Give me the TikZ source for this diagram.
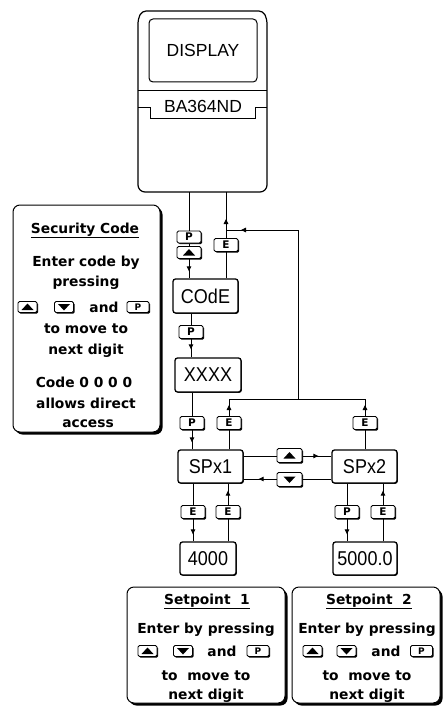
\documentclass[tikz,border=0pt]{standalone}
\usepackage{fontspec}
\setmainfont{DejaVu Sans}
\newfontfamily\dvb{DejaVu Sans}
\newfontfamily\lcd{Liberation Sans}
\newfontfamily\lcdn[FakeStretch=0.9]{Liberation Sans}
\usetikzlibrary{arrows.meta,decorations.markings,shadows}
\tikzset{
  conn/.style={line width=0.9pt},
  tipat/.style={postaction={decorate}, decoration={markings, mark=at position #1 with {\arrow{Triangle[length=5pt,width=4.5pt]}}}},
  keyb/.style={draw, fill=white, line width=0.8pt, rounded corners=1.5pt, minimum width=24pt, minimum height=13pt, inner sep=0pt,
    font=\dvb\bfseries\fontsize{10.5}{10.5}\selectfont,
    drop shadow={shadow xshift=1.2pt, shadow yshift=-1.2pt, fill=black, opacity=1}},
  skey/.style={keyb, minimum width=19pt, minimum height=11pt, font=\dvb\bfseries\fontsize{9}{9}\selectfont},
  pkey/.style={skey, minimum width=22pt},
  upk/.style={path picture={\fill[black, sharp corners] ([shift={(-6pt,-3pt)}]path picture bounding box.center) -- ([shift={(6pt,-3pt)}]path picture bounding box.center) -- ([shift={(0pt,3.5pt)}]path picture bounding box.center) -- cycle;}},
  dnk/.style={path picture={\fill[black, sharp corners] ([shift={(-6pt,3pt)}]path picture bounding box.center) -- ([shift={(6pt,3pt)}]path picture bounding box.center) -- ([shift={(0pt,-3.5pt)}]path picture bounding box.center) -- cycle;}},
  dbox/.style={draw, fill=white, line width=1.3pt, rounded corners=2.5pt, inner sep=0pt,
    font=\lcdn\fontsize{20}{20}\selectfont,
    drop shadow={shadow xshift=0.8pt, shadow yshift=-0.8pt, fill=black, opacity=1}},
  bigbox/.style={draw, fill=white, line width=1pt, rounded corners=7pt,
    drop shadow={shadow xshift=2.5pt, shadow yshift=-2.5pt, fill=black, opacity=1}},
  txt/.style={font=\dvb\bfseries\fontsize{13.8}{16}\selectfont, inner sep=0pt, anchor=base},
  insttxt/.style={font=\lcd\fontsize{17.5}{18}\selectfont, inner sep=0pt}
}
\begin{document}
\begin{tikzpicture}[x=1pt,y=-1pt]
\useasboundingbox (0,0) rectangle (442,706);
% ---------------- instrument
\draw[line width=1.2pt] (138,100) [rounded corners=4pt] -- (138,19) -- (142,11) -- (263,11) -- (267,19) [rounded corners=7pt] -- (267,192) -- (138,192) -- cycle;
\node[draw, line width=1pt, rounded corners=4pt, minimum width=108pt, minimum height=63pt, insttxt] (disp) at (203,50.5) {DISPLAY};
\draw[line width=0.9pt] (138,90) -- (267,90);
\draw[line width=0.8pt] (138,107) -- (150,107) -- (150,118) -- (255,118) -- (255,107) -- (267,107);
\node[insttxt, fill=white, inner sep=1pt] (model) at (203,106.5) {BA364ND};
% ---------------- boxes
\node[dbox, minimum width=65pt, minimum height=34pt] (code) at (205.5,296) {COdE};
\node[dbox, minimum width=66pt, minimum height=34pt] (xxxx) at (208,375) {XXXX};
\node[dbox, minimum width=65pt, minimum height=33pt] (sp1) at (210.5,466.5) {SPx1};
\node[dbox, minimum width=65pt, minimum height=33pt] (sp2) at (364.5,466.5) {SPx2};
\node[dbox, minimum width=56pt, minimum height=33pt] (v4) at (208,558.5) {4000};
\node[dbox, minimum width=64pt, minimum height=33pt] (v5) at (365,558.5) {5000.0};
% ---------------- coordinates
\coordinate (i1) at (189,192);
\coordinate (i2) at (226,192);
\coordinate (rt) at (298,230);
\coordinate (hb) at (298,399);
\coordinate (e1) at (229,399);
\coordinate (e2) at (365,399);
\coordinate (c1) at (191,0);
\coordinate (c2) at (192,0);
\coordinate (t1) at (0,456);
\coordinate (t2) at (0,479);
\coordinate (d1) at (193,0);
\coordinate (d2) at (228,0);
\coordinate (d3) at (347,0);
\coordinate (d4) at (383,0);
% ---------------- connectors
\draw[conn,tipat=-7pt] (i1) -- (i1 |- code.north);
\draw[conn,tipat=-27pt] (i2 |- code.north) -- (i2);
\draw[conn,tipat=-15pt] (hb) -- (rt) -- (i2 |- rt);
\draw[conn,tipat=-8pt] (c1 |- code.south) -- (c1 |- xxxx.north);
\draw[conn,tipat=-7pt] (c2 |- xxxx.south) -- (c2 |- sp1.north);
\draw[conn,tipat=-6pt] (e1 |- sp1.north) -- (e1);
\draw[conn,tipat=-6pt] (e2 |- sp2.north) -- (e2);
\draw[conn] (e1) -- (e2);
\draw[conn,tipat=-13pt] (sp1.east |- t1) -- (sp2.west |- t1);
\draw[conn,tipat=-15pt] (sp2.west |- t2) -- (sp1.east |- t2);
\draw[conn,tipat=-7pt] (d1 |- sp1.south) -- (d1 |- v4.north);
\draw[conn,tipat=-7pt] (d2 |- v4.north) -- (d2 |- sp1.south);
\draw[conn,tipat=-7pt] (d3 |- sp2.south) -- (d3 |- v5.north);
\draw[conn,tipat=-7pt] (d4 |- v5.north) -- (d4 |- sp2.south);
% ---------------- keys on connectors
\node[keyb, minimum height=12pt] (k1) at (189,237) {P};
\node[keyb, upk, minimum height=12pt] (k2) at (189,252.5) {};
\node[keyb] (k3) at (226,245) {E};
\node[keyb] (k4) at (191,332) {P};
\node[keyb] (k5) at (192,423) {P};
\node[keyb] (k6) at (229,423) {E};
\node[keyb] (k7) at (365,423) {E};
\node[keyb, upk, minimum width=25pt, minimum height=14pt] (k8) at (289.5,455.5) {};
\node[keyb, dnk, minimum width=25pt, minimum height=14pt] (k9) at (289.5,479.5) {};
\node[keyb] (k10) at (193,512) {E};
\node[keyb] (k11) at (228,512) {E};
\node[keyb] (k12) at (347,512) {P};
\node[keyb] (k13) at (383,512) {E};
% ---------------- security code box
\node[bigbox, minimum width=147pt, minimum height=227pt] (sec) at (86.5,318.5) {};
\node[txt] (s1) at (85,233) {\underline{Security Code}};
\node[txt] (s2) at (86,266) {Enter code by};
\node[txt] (s3) at (86,286) {pressing};
\node[skey, upk] (s4a) at (27.5,307) {};
\node[skey, dnk] (s4b) at (64,307) {};
\node[txt] (s4c) at (104,312) {and};
\node[pkey] (s4d) at (138,307) {P};
\node[txt] (s5) at (86,333) {to move to};
\node[txt] (s6) at (86,354) {next digit};
\node[txt] (s7) at (84,387) {Code 0 0 0 0};
\node[txt] (s8) at (86,408) {allows direct};
\node[txt] (s9) at (88,427) {access};
% ---------------- setpoint 1 box
\node[bigbox, minimum width=158pt, minimum height=116pt] (set1) at (206,645) {};
\node[txt] (a1) at (207,604) {\underline{Setpoint\ \ 1}};
\node[txt] (a2) at (206,633) {Enter by pressing};
\node[skey, upk] (a3a) at (147.5,651) {};
\node[skey, dnk] (a3b) at (183,651) {};
\node[txt] (a3c) at (222,656) {and};
\node[pkey] (a3d) at (258,651) {P};
\node[txt] (a4) at (206,680) {to\ \ move to};
\node[txt] (a5) at (206,699) {next digit};
% ---------------- setpoint 2 box
\node[bigbox, minimum width=148pt, minimum height=116pt] (set2) at (366,645) {};
\node[txt] (b1) at (369,604) {\underline{Setpoint\ \ 2}};
\node[txt] (b2) at (367,633) {Enter by pressing};
\node[skey, upk] (b3a) at (312.5,651) {};
\node[skey, dnk] (b3b) at (346.5,651) {};
\node[txt] (b3c) at (386,656) {and};
\node[pkey] (b3d) at (421.5,651) {P};
\node[txt] (b4) at (367,680) {to\ \ move to};
\node[txt] (b5) at (367,699) {next digit};
\end{tikzpicture}
\end{document}
